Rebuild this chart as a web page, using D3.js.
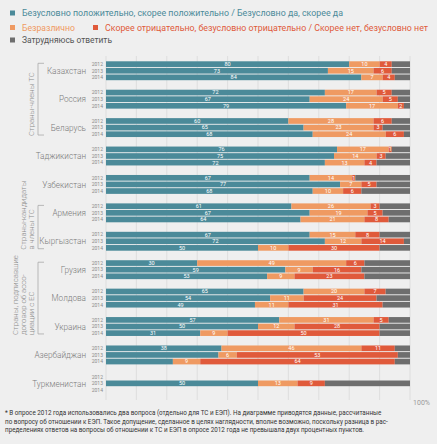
<!DOCTYPE html>
<html><head><meta charset="utf-8">
<script src="https://cdn.jsdelivr.net/npm/d3@7"></script>
<style>
html,body{margin:0;padding:0;background:#efefef;}
svg{display:block;}
text{font-family:Roboto,"Liberation Sans",sans-serif;}
</style></head>
<body>
<script>
const countries = ["Казахстан","Россия","Беларусь","Таджикистан","Узбекистан","Армения","Кыргызстан","Грузия","Молдова","Украина","Азербайджан","Туркменистан"];
const years = ["2012","2013","2014"];
// values per country: [2012, 2013, 2014]; null = no data
const positive = [[80,73,84],[72,67,79],[60,65,68],[76,75,72],[67,77,68],[61,67,64],[67,72,50],[30,59,53],[65,54,49],[57,50,31],[38,37,22],[null,50,null]];
const indifferent = [[10,15,7],[17,24,17],[28,23,24],[17,14,13],[14,7,10],[26,19,21],[15,12,10],[49,9,9],[20,11,11],[31,12,9],[46,6,9],[null,13,null]];
const negative = [[4,6,4],[5,5,2],[6,3,6],[1,3,4],[1,5,6],[3,5,8],[8,14,30],[6,16,23],[7,24,31],[5,28,50],[11,53,64],[null,9,null]];
// labels shown on the positive segment (0 = hidden)
const positiveLabelShown = [[1,1,1],[1,1,1],[1,1,1],[1,1,1],[1,1,1],[1,1,1],[1,1,1],[1,1,1],[1,1,1],[1,1,1],[1,0,0],[0,1,0]];
const seriesNames = ["Безусловно положительно, скорее положительно / Безусловно да, скорее да","Безразлично","Скорее отрицательно, безусловно отрицательно / Скорее нет, безусловно нет","Затрудняюсь ответить"];
const colors = ["#4b8a99","#ef9a62","#e05a3b","#6e6e6e"];
const textColors = ["#4b8a99","#ef9a62","#e05a3b","#555"];
const groups = [
  {lines:["Страны-члены ТС"], from:"Казахстан", to:"Беларусь"},
  {lines:["Страны-кандидаты","в члены ТС"], from:"Армения", to:"Кыргызстан"},
  {lines:["Страны, подписавшие","договор об ассо-","циации с ЕС"], from:"Грузия", to:"Украина"}
];
const footnote = [
 "* В опросе 2012 года использовались два вопроса (отдельно для ТС и ЕЭП). На диаграмме приводятся данные, рассчитанные",
 "по вопросу об отношении к ЕЭП. Такое допущение, сделанное в целях наглядности, вполне возможно, поскольку разница в рас-",
 "пределениях ответов на вопросы об отношении к ТС и ЕЭП в опросе 2012 года не превышала двух процентных пунктов."
];
const xTicks = [0,10,20,30,40,50,60,70,80,90,100];

const W=437,H=444;
const svg=d3.select("body").append("svg").attr("width",W).attr("height",H);
svg.append("rect").attr("width",W).attr("height",H).attr("fill","#efefef");

// legend
const leg=svg.append("g");
const legItems=[{i:0,x:10,y:16,w:321},{i:1,x:10,y:30.5,w:53},{i:2,x:93,y:30.5,w:323},{i:3,x:10,y:43,w:90}];
legItems.forEach(d=>{
  leg.append("rect").attr("x",d.x).attr("y",d.y-5.5).attr("width",5).attr("height",5).attr("fill",colors[d.i]);
  leg.append("text").attr("x",d.x+12).attr("y",d.y).attr("font-size",8.8).attr("fill",textColors[d.i])
    .attr("textLength",d.w).attr("lengthAdjust","spacingAndGlyphs").text(seriesNames[d.i]);
});

const x=d3.scaleLinear().domain([0,100]).range([106,410]);
const y0=d3.scaleBand().domain(countries).range([61.3,392.8]).paddingInner(0.335).paddingOuter(0);
const y1=d3.scaleBand().domain(years).range([0,y0.bandwidth()]).paddingInner(0.14);

// grid
svg.append("g").selectAll("line").data(xTicks).join("line")
  .attr("x1",d=>x(d)).attr("x2",d=>x(d)).attr("y1",56).attr("y2",400)
  .attr("stroke","#d9d9d9").attr("stroke-width",0.8);

// rows
const rows=[];
countries.forEach((c,ci)=>years.forEach((yr,yi)=>{
  if(positive[ci][yi]==null) return;
  const vals=[positive[ci][yi],indifferent[ci][yi],negative[ci][yi]];
  const rest=100-d3.sum(vals);
  let acc=0;
  [...vals,rest].forEach((v,k)=>{
    rows.push({c,yr,k,x0:acc,x1:acc+v,v,label:k<3&&(k>0||positiveLabelShown[ci][yi])});
    acc+=v;
  });
}));
const bars=svg.append("g");
bars.selectAll("rect").data(rows).join("rect")
  .attr("x",d=>x(d.x0)).attr("width",d=>x(d.x1)-x(d.x0))
  .attr("y",d=>y0(d.c)+y1(d.yr)).attr("height",y1.bandwidth())
  .attr("fill",d=>colors[d.k]);
bars.selectAll("text").data(rows.filter(d=>d.label)).join("text")
  .attr("x",d=>x((d.x0+d.x1)/2)).attr("y",d=>y0(d.c)+y1(d.yr)+y1.bandwidth()/2+1.9)
  .attr("text-anchor","middle").attr("font-size",5.5).attr("fill","#fff").text(d=>d.v);

// year labels
countries.forEach(c=>years.forEach(yr=>{
  svg.append("text").attr("x",103).attr("y",y0(c)+y1(yr)+y1.bandwidth()/2+1.8)
    .attr("text-anchor","end").attr("font-size",5).attr("fill","#8a8a8a").text(yr);
}));
// country labels
svg.append("g").selectAll("text").data(countries).join("text")
  .attr("x",86).attr("y",d=>y0(d)+y0.bandwidth()/2+3.2).attr("text-anchor","end")
  .attr("font-size",8.2).attr("font-weight",300).attr("fill","#7a7a7a").text(d=>d);

// group brackets
groups.forEach(g=>{
  const top=y0(g.from)+2, bot=y0(g.to)+y0.bandwidth()-2;
  svg.append("path").attr("d",`M44,${top}H38V${bot}H44`).attr("fill","none").attr("stroke","#aaa").attr("stroke-width",0.8);
  const n=g.lines.length;
  g.lines.forEach((t,i)=>{
    const bx=34-(n-1-i)*8;
    svg.append("text").attr("transform",`translate(${bx},${bot+1}) rotate(-90)`)
      .attr("font-size",7.8).attr("font-weight",300).attr("fill","#8a8a8a").text(t);
  });
});

svg.append("text").attr("x",430).attr("y",405).attr("text-anchor","end").attr("font-size",7).attr("fill","#999").text("100%");
footnote.forEach((t,i)=>{
  svg.append("text").attr("x",5).attr("y",415+i*8.5).attr("font-size",6.3).attr("fill","#333").text(t);
});
</script>
</body></html>
